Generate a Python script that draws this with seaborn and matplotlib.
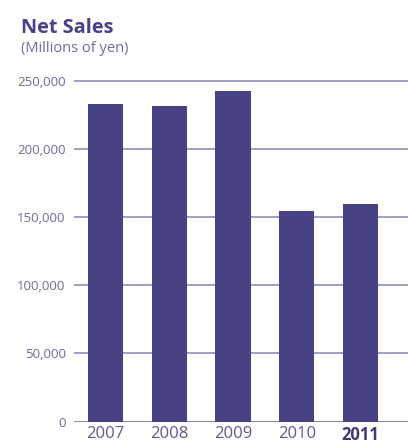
import matplotlib
matplotlib.use("Agg")
import matplotlib.pyplot as plt
import seaborn as sns
import pandas as pd

years = ["2007", "2008", "2009", "2010", "2011"]
net_sales = [232800, 231300, 242300, 154400, 159500]
y_ticks = [0, 50000, 100000, 150000, 200000, 250000]
y_tick_labels = ["0", "50,000", "100,000", "150,000", "200,000", "250,000"]

bar_color = "#464284"
grid_color = "#8583b8"
label_color = "#6d6ba2"
title_color = "#47438a"

sns.set_theme(style="white")
plt.rcParams["font.family"] = ["Open Sans", "DejaVu Sans"]

df = pd.DataFrame({"year": years, "sales": net_sales})

W, H = 408, 446
fig = plt.figure(figsize=(W / 100, H / 100), dpi=100)
ax_left = 74 / W
ax_bottom = 1 - 421.7 / H
ax_height = (341.2 * 260 / 250) / H
ax = fig.add_axes([ax_left, ax_bottom, 1 - ax_left, ax_height])

for t in y_ticks:
    ax.axhline(t, color=grid_color, lw=1.1 if t else 1.4, zorder=0)

sns.barplot(data=df, x="year", y="sales", color=bar_color, width=0.55,
            saturation=1, linewidth=0, ax=ax, zorder=2)

ax.set_xlim(-0.494, 4.745)
ax.set_ylim(0, 260000)
ax.set_yticks(y_ticks)
ax.set_yticklabels(y_tick_labels, color=label_color, fontsize=9.5)
ax.set_xticks(range(len(years)))
ax.set_xticklabels(years, fontsize=12, color="#5d5b93")
ax.get_xticklabels()[-1].set_fontweight("bold")
ax.get_xticklabels()[-1].set_color("#3e3a7a")
ax.tick_params(axis="y", length=0, pad=6)
ax.tick_params(axis="x", length=0, pad=3)
ax.set_xlabel("")
ax.set_ylabel("")
for s in ax.spines.values():
    s.set_visible(False)

fig.text(21 / W, 1 - 33 / H, "Net Sales", fontsize=14.3, fontweight="bold",
         color=title_color, va="baseline", ha="left")
fig.text(21 / W, 1 - 52 / H, "(Millions of yen)", fontsize=10.5,
         color=label_color, va="baseline", ha="left")

fig.savefig("out.png", dpi=100)
